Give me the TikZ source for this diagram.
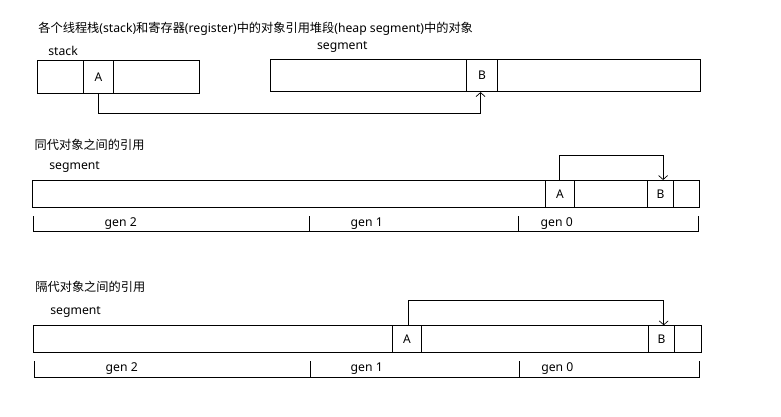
\documentclass[tikz,border=0pt]{standalone}
\usepackage{fontspec}
\setmainfont{Noto Sans}
\newfontfamily\cjk{Noto Sans CJK SC}
\usetikzlibrary{arrows.meta}
\begin{document}
\begin{tikzpicture}[x=1pt,y=-1pt,line width=0.8pt,
  cell/.style={draw,rectangle,inner sep=0pt,anchor=north west,font=\fontsize{12}{14}\selectfont},
  lbl/.style={inner sep=0pt,anchor=west,font=\fontsize{12.2}{14}\selectfont},
  genlbl/.style={inner sep=0pt,font=\fontsize{12.2}{14}\selectfont},
  ref/.style={-{Straight Barb[length=4pt,width=9pt]},line width=0.7pt}]
\useasboundingbox (0,0) rectangle (781,416);
% ---------- section 1
\node[lbl] (t1) at (38,28.3) {{\cjk 各个线程栈}(stack){\cjk 和寄存器}(register){\cjk 中的对象引用堆段}(heap segment){\cjk 中的对象}};
\node[lbl] (stk) at (48,51) {stack};
\node[lbl] (seg1) at (316.7,46.7) {segment};
\node[cell,minimum width=46pt,minimum height=33pt] (s1a) at (36.7,60) {};
\node[cell,minimum width=30.6pt,minimum height=33pt] (s1A) at (82.7,60) {A};
\node[cell,minimum width=85.4pt,minimum height=33pt] (s1b) at (113.3,60) {};
\node[cell,minimum width=196.3pt,minimum height=32pt] (s1c) at (270,59.3) {};
\node[cell,minimum width=30.7pt,minimum height=32pt] (s1B) at (466.3,59.3) {B};
\node[cell,minimum width=203pt,minimum height=32pt] (s1d) at (497,59.3) {};
\draw[ref] (s1A.south) -- ++(0,19.7) -| ([xshift=-1.5pt]s1B.south);
% ---------- section 2
\node[lbl] (t2) at (34.3,145) {\cjk 同代对象之间的引用};
\node[lbl] (seg2) at (49,166.7) {segment};
\node[cell,minimum width=512.4pt,minimum height=27.3pt] (s2a) at (32.3,180) {};
\node[cell,minimum width=29.6pt,minimum height=27.3pt] (s2A) at (544.7,180) {A};
\node[cell,minimum width=72.4pt,minimum height=27.3pt] (s2b) at (574.3,180) {};
\node[cell,minimum width=26.6pt,minimum height=27.3pt] (s2B) at (646.7,180) {B};
\node[cell,minimum width=26pt,minimum height=27.3pt] (s2c) at (673.3,180) {};
\draw[ref] ([xshift=-0.8pt]s2A.north) -- ++(0,-24.7) -| ([xshift=2.7pt]s2B.north);
\draw (33.3,216) -- (33.3,231.7) -- (698.3,231.7) -- (698.3,216);
\draw (309.3,216) -- (309.3,231.7);
\draw (518.3,216) -- (518.3,231.7);
\node[genlbl] (g22) at (120.7,224) {gen 2};
\node[genlbl] (g21) at (366.7,224) {gen 1};
\node[genlbl] (g20) at (556.7,224) {gen 0};
% ---------- section 3
\node[lbl] (t3) at (35,287.3) {\cjk 隔代对象之间的引用};
\node[lbl] (seg3) at (50,312.3) {segment};
\node[cell,minimum width=358.4pt,minimum height=27pt] (s3a) at (33.3,325.3) {};
\node[cell,minimum width=29.6pt,minimum height=27pt] (s3A) at (391.7,325.3) {A};
\node[cell,minimum width=226.4pt,minimum height=27pt] (s3b) at (421.3,325.3) {};
\node[cell,minimum width=26.6pt,minimum height=27pt] (s3B) at (647.7,325.3) {B};
\node[cell,minimum width=26.4pt,minimum height=27pt] (s3c) at (674.3,325.3) {};
\draw[ref] ([xshift=1.8pt]s3A.north) -- ++(0,-24.6) -| ([xshift=2.3pt]s3B.north);
\draw (34.7,361) -- (34.7,377.3) -- (699.3,377.3) -- (699.3,361);
\draw (310,361) -- (310,377.3);
\draw (519.3,361) -- (519.3,377.3);
\node[genlbl] (g32) at (121.7,368.5) {gen 2};
\node[genlbl] (g31) at (366.7,368.5) {gen 1};
\node[genlbl] (g30) at (557.3,368.5) {gen 0};
\end{tikzpicture}
\end{document}
